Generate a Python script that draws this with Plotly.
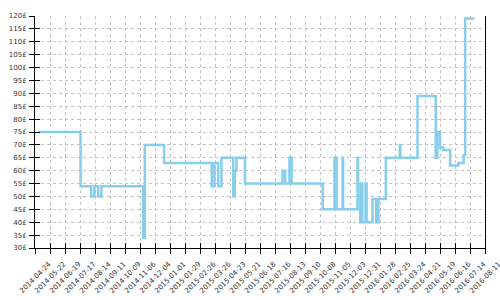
import plotly.graph_objects as go

# ---- data ----
dates = [
    "2014-04-30", "2014-07-18", "2014-08-07", "2014-08-13", "2014-08-20", "2014-08-26",
    "2014-11-12", "2014-11-15", "2014-12-21",
    "2015-03-20", "2015-03-25", "2015-04-01", "2015-04-07", "2015-04-29", "2015-05-02",
    "2015-05-05", "2015-05-21", "2015-07-30", "2015-08-04", "2015-08-12", "2015-08-16",
    "2015-10-13", "2015-11-04", "2015-11-08", "2015-11-19", "2015-11-20", "2015-12-17",
    "2015-12-18", "2015-12-22", "2015-12-23", "2015-12-26",
    "2016-01-01", "2016-01-03", "2016-01-14", "2016-01-21", "2016-01-25", "2016-02-08",
    "2016-03-05", "2016-03-06", "2016-04-07", "2016-05-11", "2016-05-14", "2016-05-19",
    "2016-05-25", "2016-06-07", "2016-06-22", "2016-07-02", "2016-07-05", "2016-07-22",
]
prices = [
    75, 54, 50, 54, 50, 54,
    34, 70, 63,
    54, 63, 54, 65, 50, 60,
    65, 55, 60, 55, 65, 55,
    45, 65, 45, 65, 45, 65,
    45, 40, 55, 40,
    55, 40, 49, 40, 49, 65,
    70, 65, 89, 65, 75, 69,
    68, 62, 63, 66, 119, 119,
]
tick_dates = [
    "2014-04-24", "2014-05-22", "2014-06-19", "2014-07-17", "2014-08-14", "2014-09-11",
    "2014-10-09", "2014-11-06", "2014-12-04", "2015-01-01", "2015-01-29", "2015-02-26",
    "2015-03-26", "2015-04-23", "2015-05-21", "2015-06-18", "2015-07-16", "2015-08-13",
    "2015-09-10", "2015-10-08", "2015-11-05", "2015-12-03", "2015-12-31", "2016-01-28",
    "2016-02-25", "2016-03-24", "2016-04-21", "2016-05-19", "2016-06-16", "2016-07-14",
    "2016-08-11",
]
y_ticks = [30, 35, 40, 45, 50, 55, 60, 65, 70, 75, 80, 85, 90, 95, 100, 105, 110, 115, 120]
y_labels = [f"{v}£" for v in y_ticks]

font = dict(family="DejaVu Sans", size=7, color="#333333")
grid = dict(showgrid=True, gridcolor="#c4c4c4", griddash="3px,3px", gridwidth=1)

fig = go.Figure()
fig.add_trace(go.Scatter(
    x=dates, y=prices, mode="lines",
    line=dict(color="#87CEEB", width=2.5, shape="hv"),
    hoverinfo="skip", showlegend=False,
))
# helper trace so the overlay axes (inner half of crossing ticks) are drawn
fig.add_trace(go.Scatter(
    x=[tick_dates[0]], y=[y_ticks[0]], xaxis="x2", yaxis="y2", mode="markers",
    marker=dict(opacity=0), hoverinfo="skip", showlegend=False,
))

fig.update_layout(
    width=500, height=300,
    margin=dict(l=35, r=15, t=16, b=52, pad=0, autoexpand=False),
    paper_bgcolor="white", plot_bgcolor="white", showlegend=False,
    xaxis=dict(
        type="date", range=[tick_dates[0], tick_dates[-1]], tickmode="array",
        tickvals=tick_dates, showticklabels=False, automargin=False,
        ticks="outside", ticklen=5, tickwidth=1, tickcolor="black",
        showline=True, linecolor="black", linewidth=1, zeroline=False, **grid,
    ),
    yaxis=dict(
        range=[30, 120], tickmode="array", tickvals=y_ticks, ticktext=y_labels,
        ticks="outside", ticklen=5, tickwidth=1, tickcolor="black", tickfont=font,
        automargin=False, ticklabelstandoff=1,
        showline=True, linecolor="black", linewidth=1, mirror=True, zeroline=False, **grid,
    ),
    xaxis2=dict(
        type="date", overlaying="x", anchor="y2", range=[tick_dates[0], tick_dates[-1]],
        tickmode="array", tickvals=tick_dates, showticklabels=False, automargin=False,
        ticks="inside", ticklen=5, tickwidth=1, tickcolor="black",
        showgrid=False, showline=False, zeroline=False,
    ),
    yaxis2=dict(
        overlaying="y", anchor="x2", side="left", range=[30, 120], automargin=False,
        tickmode="array", tickvals=y_ticks, showticklabels=False,
        ticks="inside", ticklen=5, tickwidth=1, tickcolor="black",
        showgrid=False, showline=False, zeroline=False,
    ),
)

for d in tick_dates:
    fig.add_annotation(
        x=d, y=-0.128, xref="x", yref="paper", text=d, textangle=-45,
        showarrow=False, font=font, xanchor="center", yanchor="middle",
    )

fig.write_html("out.html")
